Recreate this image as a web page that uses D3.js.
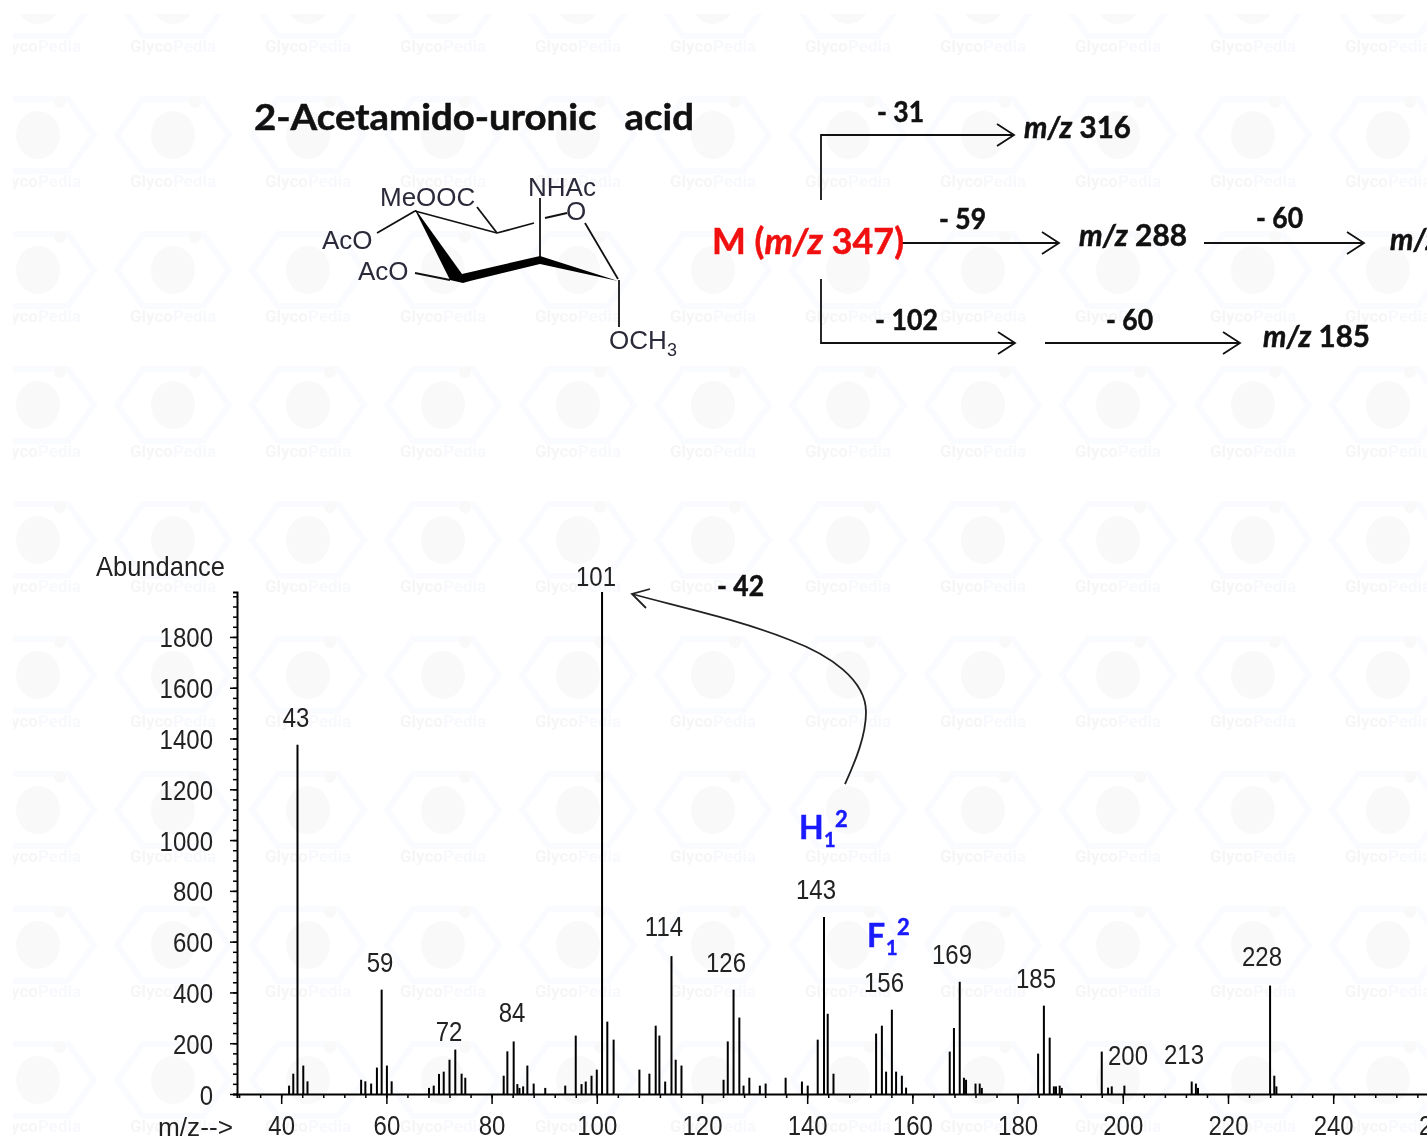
<!DOCTYPE html>
<html>
<head>
<meta charset="utf-8">
<title>2-Acetamido-uronic acid</title>
<script src="https://cdn.jsdelivr.net/npm/d3@7"></script>
<style>
  html, body { margin: 0; padding: 0; background: #fff; overflow: hidden; }
  svg { display: block; filter: blur(0.45px); }
  .chart text { font-family: "Liberation Sans", Arial, sans-serif; font-size: 24px; fill: #222; }
  .mol text { font-family: "Liberation Sans", Arial, sans-serif; font-size: 26px; fill: #2a2a3a; }
  .scheme text { font-family: Lato, "Open Sans", sans-serif; font-weight: 700; fill: #111; stroke: currentColor; stroke-width: 0.5px; color: #111; }
</style>
</head>
<body>
<svg id="fig" width="1427" height="1140"></svg>
<script>
// m/z of every stem
const peakMz = [
  41.5, 42.3, 43.1, 44.2, 45,
  55.2, 56, 57.1, 58.2, 59.1, 60.1, 61,
  68.1, 69, 70, 70.9, 72, 73.1, 74.3, 75,
  82.3, 83, 84.2, 84.9, 85.3, 86, 86.8, 88, 90.2,
  94, 96, 97.1, 97.9, 99, 100, 101, 102, 103.2,
  108.1, 110, 111.2, 111.9, 113, 114.2, 115, 116.1,
  124.1, 124.9, 126, 127.1, 127.9, 129, 131, 132.1, 135.9,
  139, 140.1, 142, 143.2, 143.9, 145,
  153.1, 154.2, 155, 156.1, 156.9, 158, 158.8,
  167.1, 167.9, 169, 169.8, 170.2, 172, 172.8, 173.2,
  183.9, 185, 186.1, 186.9, 187.3, 188, 188.4,
  196, 197.2, 197.9, 200.3,
  213.1, 213.9, 214.3,
  228, 228.8, 229.2
];
const peakAbundance = [
  33, 80, 1375, 112, 50,
  56, 50, 41, 104, 411, 112, 50,
  24, 33, 79, 88, 135, 175, 80, 64,
  72, 168, 207, 39, 24, 30, 112, 41, 24,
  33, 230, 39, 49, 72, 96, 1977, 285, 214,
  96, 80, 269, 230, 49, 543, 135, 112,
  56, 207, 411, 301, 33, 64, 33, 41, 64,
  49, 33, 214, 697, 316, 80,
  238, 269, 88, 332, 88, 72, 25,
  167, 260, 442, 64, 56, 41, 41, 24,
  159, 348, 222, 30, 30, 33, 24,
  167, 25, 30, 33,
  49, 41, 24,
  427, 72, 30
];

// peak labels and where their text sits
const labelText = ["43", "59", "72", "84", "101", "114", "126", "143", "156", "169", "185", "200", "213", "228"];
const labelX = [296, 380, 449, 512, 596, 664, 726, 816, 884, 952, 1036, 1128, 1184, 1262];
const labelY = [727, 972, 1041, 1022, 586, 936, 972, 899, 992, 964, 988, 1065, 1064, 966];

const xMajor = [40, 60, 80, 100, 120, 140, 160, 180, 200, 220, 240, 260];
const yMajor = [0, 200, 400, 600, 800, 1000, 1200, 1400, 1600, 1800];

// watermark tile grid
const wmCols = [38, 173, 308, 443, 578, 713, 848, 983, 1118, 1253, 1388];
const wmRows = [0, 135, 270, 405, 540, 675, 810, 945, 1080];

const svg = d3.select("#fig");

const x = d3.scaleLinear().domain([31.6, 270]).range([237, 1491]);
const y = d3.scaleLinear().domain([0, 1977]).range([1094, 592]);

function drawWatermark() {
  svg.append("clipPath").attr("id", "wmclip")
    .append("rect").attr("x", 13).attr("y", 14).attr("width", 1414).attr("height", 1126);
  const wm = svg.append("g").attr("clip-path", "url(#wmclip)");
  for (const cx of wmCols) {
    for (const cy of wmRows) {
      const g = wm.append("g").attr("transform", `translate(${cx},${cy})`);
      g.append("path")
        .attr("d", "M-56,0 L-30,-36 L30,-36 L56,0 L30,36 L-30,36 Z")
        .attr("fill", "none").attr("stroke", "#fafbfe").attr("stroke-width", 6);
      g.append("ellipse").attr("rx", 22).attr("ry", 24).attr("fill", "#f9f9f9");
      g.append("circle").attr("cx", 22).attr("cy", -33).attr("r", 6).attr("fill", "#f9f9f9");
      const t = g.append("text").attr("x", 0).attr("y", 52).attr("text-anchor", "middle")
        .attr("font-family", "Roboto, sans-serif").attr("font-weight", 700).attr("font-size", 17);
      t.append("tspan").attr("fill", "#f6f6f6").text("Glyco");
      t.append("tspan").attr("fill", "#f8f9fc").text("Pedia");
    }
  }
}

function tall(sel, dx, dy) {
  // the source picture is stretched a bit vertically
  sel.attr("transform", `translate(${dx},${dy}) scale(1,1.15)`);
}

function drawSpectrum() {
  const chart = svg.append("g").attr("class", "chart");

  chart.append("g").selectAll("line")
    .data(peakMz)
    .enter().append("line")
    .attr("x1", d => x(d)).attr("x2", d => x(d))
    .attr("y1", y(0))
    .attr("y2", (d, i) => y(peakAbundance[i]))
    .attr("stroke", "#000").attr("stroke-width", 2);

  // minor ticks first, then the labelled ones on top
  const xMinor = d3.range(32, 270, 4);
  chart.append("g").attr("transform", `translate(0,${y(0)})`)
    .call(d3.axisBottom(x).tickValues(xMinor).tickSize(4).tickFormat(""))
    .call(g => g.select(".domain").attr("stroke", "#000").attr("stroke-width", 2));
  chart.append("g").attr("transform", `translate(0,${y(0)})`)
    .call(d3.axisBottom(x).tickValues(xMajor).tickSize(10).tickFormat(d3.format("d")))
    .call(g => g.select(".domain").remove())
    .call(g => g.selectAll("text").attr("y", 0).attr("dy", 0).attr("fill", null)
      .each(function() { tall(d3.select(this), 0, 41); }));

  const yMinor = d3.range(0, 1977, 40);
  chart.append("g").attr("transform", `translate(${x.range()[0]},0)`)
    .call(d3.axisLeft(y).tickValues(yMinor).tickSize(4).tickFormat(""))
    .call(g => g.select(".domain").attr("stroke", "#000").attr("stroke-width", 2));
  chart.append("g").attr("transform", `translate(${x.range()[0]},0)`)
    .call(d3.axisLeft(y).tickValues(yMajor).tickSize(7).tickFormat(d3.format("d")))
    .call(g => g.select(".domain").remove())
    .call(g => g.selectAll("text").attr("x", 0).attr("dy", 0).attr("fill", null)
      .each(function() { tall(d3.select(this), -24, 10); }));

  chart.selectAll("g.tick line").attr("stroke", "#000").attr("stroke-width", 1.5);
  chart.selectAll("g.tick text")
    .style("font-family", "'Liberation Sans', Arial, sans-serif").style("font-size", "24px");

  chart.append("g").selectAll("text")
    .data(labelText)
    .enter().append("text")
    .attr("text-anchor", "middle")
    .attr("transform", (d, i) => `translate(${labelX[i]},${labelY[i]}) scale(1,1.15)`)
    .text(d => d);

  chart.append("text").attr("transform", "translate(96,576) scale(1,1.15)")
    .attr("textLength", 129).attr("lengthAdjust", "spacingAndGlyphs").text("Abundance");
  chart.append("text").attr("transform", "translate(158,1136) scale(1,1.1)")
    .attr("textLength", 75).attr("lengthAdjust", "spacingAndGlyphs").text("m/z-->");
}

function drawMolecule() {
  const mol = svg.append("g").attr("class", "mol");
  const bonds = [
    [415, 211, 497, 233], [497, 233, 534, 223], [545, 218, 567, 213],
    [585, 223, 618, 279], [540, 198, 540, 257], [619, 280, 619, 327],
    [477, 207, 497, 233], [377, 233, 415, 211], [415, 273, 450, 280]
  ];
  mol.selectAll("line").data(bonds).enter().append("line")
    .attr("x1", d => d[0]).attr("y1", d => d[1]).attr("x2", d => d[2]).attr("y2", d => d[3])
    .attr("stroke", "#111").attr("stroke-width", 1.8);

  // wedge and bold bonds of the ring
  mol.append("path").attr("fill", "#000")
    .attr("d", "M415,210 L450,280 L463,283 L470,281 L540,264 L618,281 L540,256 L462,274 L416,210 Z");

  const labels = [
    ["MeOOC", 380, 206], ["AcO", 322, 249], ["AcO", 358, 280],
    ["NHAc", 528, 196], ["O", 566, 220], ["OCH", 609, 349]
  ];
  mol.selectAll("text").data(labels).enter().append("text")
    .attr("x", d => d[1]).attr("y", d => d[2]).text(d => d[0]);
  mol.append("text").attr("x", 667).attr("y", 356).style("font-size", "18px").text("3");
}

function arrow(g, d, tipX, tipY) {
  g.append("path").attr("d", d).attr("fill", "none").attr("stroke", "#111").attr("stroke-width", 1.8);
  g.append("path").attr("d", `M${tipX - 17},${tipY - 11} L${tipX},${tipY} L${tipX - 17},${tipY + 11}`)
    .attr("fill", "none").attr("stroke", "#111").attr("stroke-width", 1.8);
}

function mz(g, xPos, yPos, rest, len) {
  const t = g.append("text").attr("x", xPos).attr("y", yPos).attr("font-size", 30);
  if (len) t.attr("textLength", len).attr("lengthAdjust", "spacingAndGlyphs");
  t.append("tspan").attr("font-style", "italic").text("m/z");
  t.append("tspan").text(" " + rest);
}

function drawScheme() {
  const g = svg.append("g").attr("class", "scheme");

  g.append("text").attr("x", 254).attr("y", 130).attr("font-size", 36)
    .attr("xml:space", "preserve").style("white-space", "pre")
    .attr("textLength", 440).attr("lengthAdjust", "spacingAndGlyphs")
    .text("2-Acetamido-uronic   acid");

  arrow(g, "M821,200 L821,135 L1014,135", 1014, 135);
  arrow(g, "M902,243 L1059,243", 1059, 243);
  arrow(g, "M1204,243 L1364,243", 1364, 243);
  arrow(g, "M821,279 L821,343 L1015,343", 1015, 343);
  arrow(g, "M1045,343 L1240,343", 1240, 343);

  const losses = [["- 31", 877, 122, 47], ["- 59", 939, 229, 47], ["- 60", 1256, 228, 47],
    ["- 102", 875, 330, 63], ["- 60", 1106, 330, 47], ["- 42", 717, 596, 47]];
  g.selectAll("text.loss").data(losses).enter().append("text").attr("class", "loss")
    .attr("x", d => d[1]).attr("y", d => d[2]).attr("font-size", 28)
    .attr("textLength", d => d[3]).attr("lengthAdjust", "spacingAndGlyphs")
    .text(d => d[0]);

  mz(g, 1024, 138, "316", 107);
  mz(g, 1079, 246, "288", 108);
  mz(g, 1263, 347, "185", 107);
  mz(g, 1390, 250, "228", 107);

  const m = g.append("text").attr("x", 712).attr("y", 254).attr("font-size", 36)
    .attr("textLength", 192).attr("lengthAdjust", "spacingAndGlyphs")
    .style("color", "#f01010");
  m.append("tspan").style("fill", "#f01010").text("M (");
  m.append("tspan").style("fill", "#f01010").attr("font-style", "italic").text("m/z");
  m.append("tspan").style("fill", "#f01010").text(" 347)");

  // loss of 42 from H1 down to the base peak
  g.append("path")
    .attr("d", "M845,784 C856,760 866,735 866,712 C866,680 830,655 790,640 C740,620 680,607 632,594")
    .attr("fill", "none").attr("stroke", "#222").attr("stroke-width", 1.8);
  g.append("path").attr("d", "M650,589 L632,594 L646,608")
    .attr("fill", "none").attr("stroke", "#222").attr("stroke-width", 1.8);

  fragment(g, "H", 799, 839);
  fragment(g, "F", 867, 947);
}

function fragment(g, letter, xPos, yPos) {
  const blue = "#1a1aff";
  const w = letter == "H" ? 24 : 18;
  const add = (dx, dy, size, s) => g.append("text").attr("x", xPos + dx).attr("y", yPos + dy)
    .attr("font-size", size).style("fill", blue).style("color", blue).text(s);
  add(0, 0, 32, letter);
  add(w + 1, 8, 20, "1");
  add(w + 12, -12, 22, "2");
}

drawWatermark();
drawMolecule();
drawSpectrum();
drawScheme();
</script>
</body>
</html>
